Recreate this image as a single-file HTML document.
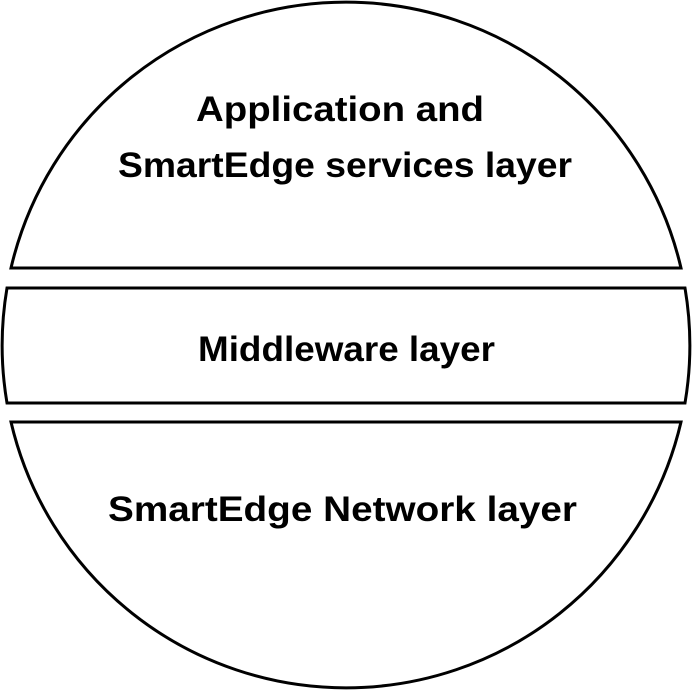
<!DOCTYPE html>
<html><head><style>html,body{margin:0;padding:0;background:#fff}</style></head>
<body>
<svg width="693" height="693" viewBox="0 0 693 693" xmlns="http://www.w3.org/2000/svg">
<g fill="none" stroke="#000" stroke-width="3">
<path d="M11 268 A344 344 0 0 1 681 268 Z"/>
<path d="M7 288 L685 288 A344 344 0 0 1 685 403 L7 403 A344 344 0 0 1 7 288 Z"/>
<path d="M11 422 L681 422 A344 344 0 0 1 11 422 Z"/>
</g>
<g font-family="Liberation Sans, sans-serif" font-weight="bold" font-size="35" fill="#000" lengthAdjust="spacingAndGlyphs">
<text x="196" y="121" textLength="288" lengthAdjust="spacingAndGlyphs">Application and</text>
<text x="118" y="177" textLength="454" lengthAdjust="spacingAndGlyphs">SmartEdge services layer</text>
<text x="198" y="361" textLength="297" lengthAdjust="spacingAndGlyphs">Middleware layer</text>
<text x="108" y="521" textLength="469" lengthAdjust="spacingAndGlyphs">SmartEdge Network layer</text>
</g>
</svg>
</body></html>
